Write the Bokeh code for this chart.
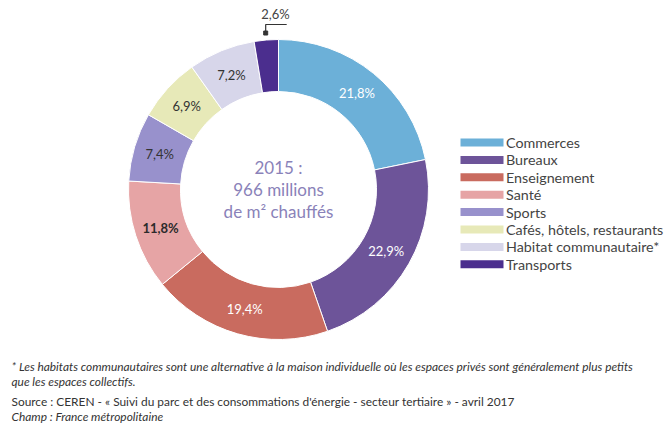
import math
from bokeh.plotting import figure
from bokeh.models import Range1d, ColumnDataSource
from bokeh.core.properties import value
from bokeh.embed import file_html
from bokeh.resources import INLINE

categories = ["Commerces", "Bureaux", "Enseignement", "Santé", "Sports",
              "Cafés, hôtels, restaurants", "Habitat communautaire*", "Transports"]
shares = [21.8, 22.9, 19.4, 11.8, 7.4, 6.9, 7.2, 2.6]
labels = ["21,8%", "22,9%", "19,4%", "11,8%", "7,4%", "6,9%", "7,2%", "2,6%"]
colors = ["#6cb0d8", "#6d5499", "#c96b5f", "#e6a4a5", "#9891cc", "#e7e9b8", "#d7d6ea", "#4b2e8e"]
label_colors = ["white", "white", "white", "#2b2b2b", "#333333", "#333333", "#333333", "#333333"]
label_styles = ["normal", "normal", "normal", "bold", "normal", "normal", "normal", "normal"]
center_lines = ["2015 :", "966 millions", "de m² chauffés"]
notes = [
    ("* Les habitats communautaires sont une alternative à la maison individuelle où les espaces privés sont généralement plus petits", "italic"),
    ("que les espaces collectifs.", "italic"),
    ("Source : CEREN - « Suivi du parc et des consommations d'énergie - secteur tertiaire » - avril 2017", "normal"),
    ("Champ : France métropolitaine", "italic"),
]

W, H = 665, 425
FONT = value("Lato")
cx, cy = 278, H - 189
r_in, r_out = 98, 150

p = figure(width=W, height=H, output_backend="svg", toolbar_location=None,
           x_range=Range1d(0, W), y_range=Range1d(0, H), min_border=0)
p.axis.visible = False
p.grid.visible = False
p.outline_line_color = None
p.background_fill_color = "white"

total = sum(shares)
starts, ends, mids = [], [], []
acc = 0.0
for s in shares:
    a0 = math.pi / 2 - 2 * math.pi * acc / total
    acc += s
    a1 = math.pi / 2 - 2 * math.pi * acc / total
    starts.append(a0)
    ends.append(a1)
    mids.append((a0 + a1) / 2)

src = ColumnDataSource(dict(start=starts, end=ends, color=colors))
p.annular_wedge(x=cx, y=cy, inner_radius=r_in, outer_radius=r_out,
                start_angle="start", end_angle="end", direction="clock",
                fill_color="color", line_color="white", line_width=1, source=src)

# slice labels
r_lab = (r_in + r_out) / 2
for i, lab in enumerate(labels):
    if i == len(labels) - 1:
        # outside label with leader line
        ax = cx + (r_out + 7) * math.cos(mids[i])
        ay = cy + (r_out + 7) * math.sin(mids[i])
        top = cy + r_out + 15
        p.line([ax, ax, ax + 21], [ay, top, top], line_color="#333333", line_width=1.2)
        p.scatter([ax], [ay], marker="square", size=4, color="#333333")
        p.text(x=[cx - 3], y=[top + 3], text=[lab], text_font=FONT, text_font_size="13px",
               text_color="#444444", text_align="center", text_baseline="bottom")
    else:
        lx = cx + r_lab * math.cos(mids[i])
        ly = cy + r_lab * math.sin(mids[i])
        p.text(x=[lx], y=[ly], text=[lab], text_font=FONT, text_font_size="13px",
               text_color=label_colors[i], text_font_style=label_styles[i],
               text_align="center", text_baseline="middle")

# center text
for j, t in enumerate(center_lines):
    p.text(x=[cx], y=[cy + 22 - 22 * j], text=[t], text_font=FONT, text_font_size="17px",
           text_color="#8a82b9", text_align="center", text_baseline="middle")

# legend
lx0, ly0, step = 481.5, H - 142, 17.4
for i, c in enumerate(categories):
    y = ly0 - step * i
    p.rect(x=[lx0], y=[y], width=43, height=8, fill_color=colors[i], line_color=None)
    p.text(x=[lx0 + 24], y=[y], text=[c], text_font=FONT, text_font_size="14.3px",
           text_color="#444444", text_baseline="middle")

# notes
note_py = [366, 381, 401, 416]
for (t, st), py in zip(notes, note_py):
    p.text(x=[11], y=[H - py], text=[t], text_font=FONT, text_font_size="11.9px",
           text_font_style=st, text_color="#333333", text_baseline="middle")

open("out.html", "w").write(file_html(p, INLINE))
